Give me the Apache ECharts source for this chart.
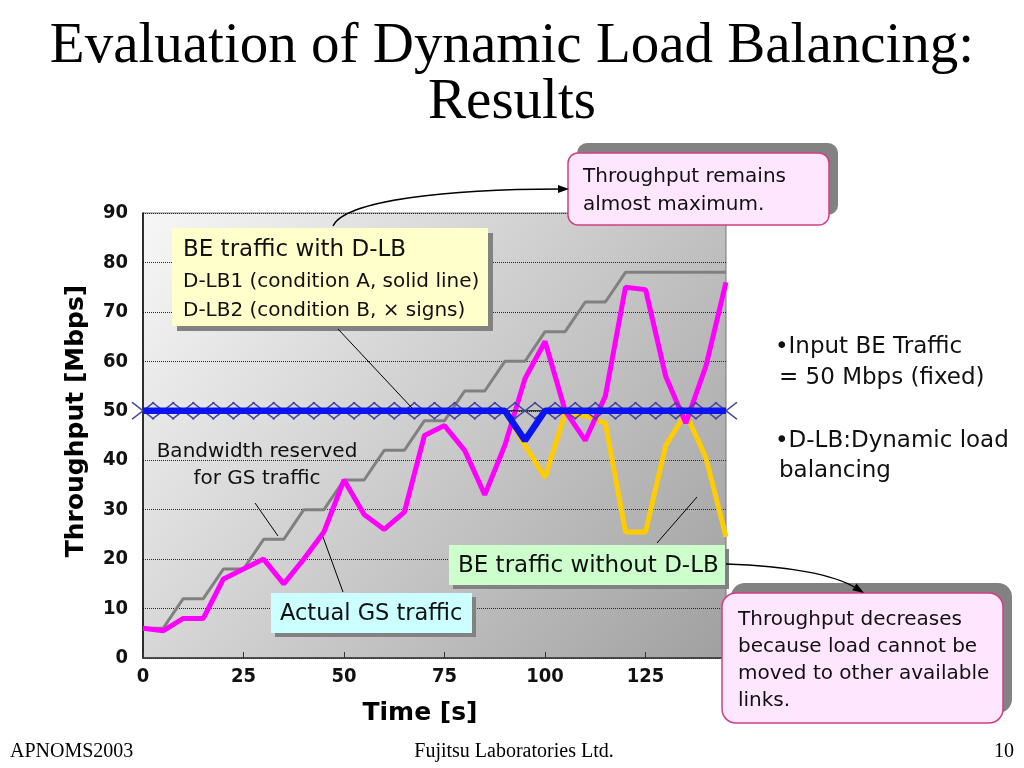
<!DOCTYPE html>
<html>
<head>
<meta charset="utf-8">
<script src="https://cdn.jsdelivr.net/npm/echarts@6/dist/echarts.min.js"></script>
<style>
html,body{margin:0;padding:0;background:#fff;}
#chart{width:1024px;height:768px;}
</style>
</head>
<body>
<div id="chart"></div>
<script>
// ---- data ----
const times = [0,5,10,15,20,25,30,35,40,45,50,55,60,65,70,75,80,85,90,95,100,105,110,115,120,125,130,135,140,145];
const reservedGS = [6,6,12,12,18,18,24,24,30,30,36,36,42,42,48,48,54,54,60,60,66,66,72,72,78,78,78,78,78,78];
const actualGS   = [6,5.5,8,8,16,18,20,15,20,25.5,36,29,26,29.5,45,47,42,33,43,56.5,64,50,44,53,75,74.5,57,47.5,59,76];
const beWithoutDLB = [50,50,50,50,50,50,50,50,50,50,50,50,50,50,50,50,50,50,50,43,36.5,49.5,49,47.5,25.5,25.5,43,49.5,40.5,24.5];
const beDLB1 = [50,50,50,50,50,50,50,50,50,50,50,50,50,50,50,50,50,50,50,44,50,50,50,50,50,50,50,50,50,50];
const beDLB2 = [50,50,50,50,50,50,50,50,50,50,50,50,50,50,50,50,50,50,50,50,50,50,50,50,50,50,50,50,50,50];
const xTickLabels = [0,25,50,75,100,125];

const pairs = arr => times.map((t,i)=>[t,arr[i]]);

const SANS = "'DejaVu Sans', Verdana, sans-serif";
const SANSC = "'DejaVu Sans Condensed', 'DejaVu Sans', sans-serif";
const SERIF = "'Liberation Serif', 'Times New Roman', serif";

const chart = echarts.init(document.getElementById('chart'), null, {renderer:'canvas'});

function box(x,y,w,h,fill,stroke,r,sdx,sdy){
  return [
    {type:'rect', z:100, shape:{x:x+sdx,y:y+sdy,width:w,height:h,r:r}, style:{fill:'#828282'}},
    {type:'rect', z:101, shape:{x:x,y:y,width:w,height:h,r:r}, style:{fill:fill, stroke:stroke, lineWidth:stroke?1.5:0}}
  ];
}
function txt(x,y,text,size,opts){
  opts = opts||{};
  return {type:'text', z:110, style:{x:x,y:y,text:text,fill:opts.color||'#111',
    font:(opts.weight||'normal')+' '+size+'px '+(opts.family||SANS),
    textAlign:opts.align||'left', textVerticalAlign:'middle', lineHeight:opts.lh||size*1.2}};
}
function ln(x1,y1,x2,y2,c){
  return {type:'line', z:105, shape:{x1,y1,x2,y2}, style:{stroke:c||'#000',lineWidth:1}};
}

const graphics = [].concat(
  // title + footer
  txt(512,47,'Evaluation of Dynamic Load Balancing:',57,{family:SERIF,align:'center',color:'#000'}),
  txt(512,103,'Results',57,{family:SERIF,align:'center',color:'#000'}),
  txt(10,752,'APNOMS2003',20,{family:SERIF,color:'#000'}),
  txt(514,752,'Fujitsu Laboratories Ltd.',20,{family:SERIF,align:'center',color:'#000'}),
  txt(1014,752,'10',20,{family:SERIF,align:'right',color:'#000'}),
  // axis titles
  {type:'text', z:110, rotation:Math.PI/2, x:76, y:421,
    style:{x:0,y:0,text:'Throughput [Mbps]',fill:'#000',font:'bold 25px '+SANS,textAlign:'center',textVerticalAlign:'middle'}},
  txt(420,713,'Time [s]',25,{weight:'bold',align:'center',color:'#000'}),
  // right side notes
  txt(775,347,'•Input BE Traffic',23),
  txt(779,378,'= 50 Mbps (fixed)',23),
  txt(775,441,'•D-LB:Dynamic load',23),
  txt(779,471,'balancing',23),
  // yellow legend box
  box(172,228,316,98,'#ffffcc',null,0,5,5),
  txt(183,250,'BE traffic with D-LB',23),
  txt(183,282,'D-LB1 (condition A, solid line)',20),
  txt(183,311,'D-LB2 (condition B, \u00d7 signs)',20),
  // throughput remains
  box(568,153,261,72,'#ffe6ff','#d04080',10,9,-10),
  txt(583,177,'Throughput remains',20),
  txt(583,205,'almost maximum.',20),
  // throughput decreases
  box(722,593,281,130,'#ffe6ff','#d04080',14,9,-10),
  txt(738,620,'Throughput decreases',20),
  txt(738,647,'because load cannot be',20),
  txt(738,674,'moved to other available',20),
  txt(738,701,'links.',20),
  // green
  box(449,545,276,40,'#ccffcc',null,0,4,4),
  txt(458,566,'BE traffic without D-LB',23),
  // cyan
  box(271,593,201,40,'#ccffff',null,0,4,4),
  txt(280,614,'Actual GS traffic',22.5),
  // bandwidth reserved text
  txt(257,452,'Bandwidth reserved',20,{align:'center'}),
  txt(257,479,'for GS traffic',20,{align:'center'}),
  // leader lines
  ln(255,503,278,536),
  ln(323,537,343,592),
  ln(338,329,412,408),
  ln(657,543,697,497),
  {type:'bezierCurve', z:105, shape:{x1:333,y1:226,cpx1:345,cpy1:200,cpx2:450,cpy2:189,x2:560,y2:189}, style:{stroke:'#000',lineWidth:1.3,fill:null}},
  {type:'polygon', z:106, shape:{points:[[569,189],[558,185],[558,193]]}, style:{fill:'#000'}},
  {type:'bezierCurve', z:105, shape:{x1:726,y1:564,cpx1:790,cpy1:566,cpx2:835,cpy2:575,x2:856,y2:588}, style:{stroke:'#000',lineWidth:1.3,fill:null}},
  {type:'polygon', z:106, shape:{points:[[864,593],[852.3,590.3],[856.5,583.5]]}, style:{fill:'#000'}}
);

const option = {
  animation:false,
  backgroundColor:'#ffffff',
  grid:{left:143,right:298,top:213,bottom:110,show:true,borderColor:'#777',borderWidth:1,
    backgroundColor:new echarts.graphic.LinearGradient(0,0,1,1,[{offset:0,color:'#f7f7f7'},{offset:1,color:'#a0a0a0'}])},
  xAxis:{type:'value',min:0,max:145,interval:25,
    axisLine:{show:true,lineStyle:{color:'#333',width:1.5}},
    axisTick:{show:true,inside:true,length:6,lineStyle:{color:'#333'}},
    splitLine:{show:false},
    axisLabel:{margin:9,color:'#111',fontWeight:'bold',fontSize:20,fontFamily:SANSC,
      formatter:v=> xTickLabels.indexOf(v)>=0 ? String(v) : ''}},
  yAxis:{type:'value',min:0,max:90,interval:10,
    axisLine:{show:true,lineStyle:{color:'#000',width:1.5}},
    axisTick:{show:false},
    splitLine:{show:true,lineStyle:{color:'#2a2a2a',type:'dotted',width:1}},
    axisLabel:{margin:15,color:'#111',fontWeight:'bold',fontSize:20,fontFamily:SANSC}},
  series:[
    {name:'Bandwidth reserved for GS traffic',type:'line',data:pairs(reservedGS),symbol:'none',z:2,
      lineStyle:{color:'#808080',width:3}},
    {name:'BE traffic without D-LB',type:'line',data:pairs(beWithoutDLB),symbol:'none',z:3,
      lineStyle:{color:'#ffcc00',width:5}},
    {name:'Actual GS traffic',type:'line',data:pairs(actualGS),symbol:'none',z:4,
      lineStyle:{color:'#ff00ff',width:5}},
    {name:'D-LB2',type:'line',data:pairs(beDLB2),z:5,
      symbol:'path://M0,0L20,16M20,0L0,16',symbolSize:[22,17],
      itemStyle:{color:'none',borderColor:'#45459a',borderWidth:1.4},
      lineStyle:{color:'#000',width:1}},
    {name:'D-LB1',type:'line',data:pairs(beDLB1),symbol:'none',z:6,
      lineStyle:{color:'#0a14f0',width:6.5}}
  ],
  graphic:graphics
};
chart.setOption(option);
</script>
</body>
</html>
